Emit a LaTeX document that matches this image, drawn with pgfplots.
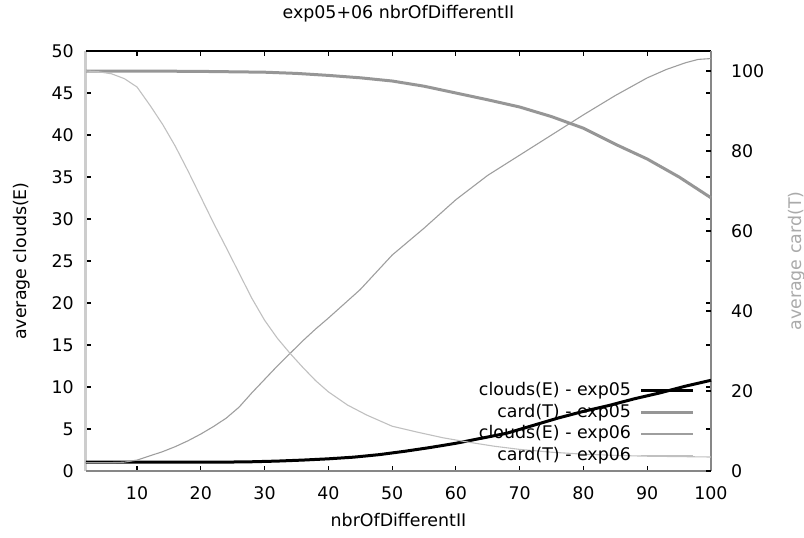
\documentclass[border=0pt]{standalone}
\usepackage{fontspec}
\setmainfont{DejaVu Sans}
\usepackage{pgfplots}
\usepackage{pgfplotstable}
\pgfplotsset{compat=1.18}
\usetikzlibrary{calc}
\definecolor{thickgray}{RGB}{150,150,150}
\definecolor{midgray}{RGB}{158,158,158}
\definecolor{lightgray2}{RGB}{192,192,192}
\definecolor{leftaxis}{RGB}{205,205,205}
\definecolor{framegray}{RGB}{135,135,135}
\definecolor{ytwogray}{RGB}{170,170,170}

% clouds(E) - exp05 (left axis)
\pgfplotstableread{
x y
2 1.05
6 1.05
10 1.05
15 1.05
20 1.05
25 1.07
28 1.1
32 1.18
36 1.3
40 1.45
44 1.65
48 1.95
52 2.35
56 2.8
60 3.3
64 3.9
68 4.5
72 5.4
76 6.3
80 7.1
84 7.8
88 8.6
92 9.3
96 10.1
100 10.8
}\cloudsA

% clouds(E) - exp06 (left axis)
\pgfplotstableread{
x y
2 1.0
6 1.0
8 1.05
10 1.3
12 1.8
14 2.3
16 2.9
18 3.6
20 4.4
22 5.3
24 6.3
26 7.6
28 9.3
30 10.9
32 12.5
34 14.0
36 15.5
38 16.9
40 18.2
45 21.6
50 25.7
55 28.9
60 32.3
65 35.2
70 37.6
75 40.0
80 42.4
85 44.7
90 46.8
93 47.8
96 48.6
98 49.0
100 49.1
}\cloudsB

% card(T) - exp05 (right axis)
\pgfplotstableread{
x y
2 100
10 100
20 99.9
30 99.7
35 99.4
40 98.9
45 98.3
50 97.5
55 96.2
60 94.5
65 92.8
70 91
75 88.6
80 85.7
85 81.7
90 78
95 73.5
100 68.3
}\cardA

% card(T) - exp06 (right axis)
\pgfplotstableread{
x y
2 100
4 99.8
6 99.3
8 98.1
10 96
12 91.5
14 86.7
16 81.2
18 75
20 68.5
22 62
24 55.8
26 49.5
28 43.2
30 37.7
32 33.2
34 29.4
36 25.9
38 22.6
40 19.8
43 16.5
46 14
50 11.2
54 9.7
58 8.3
62 7.2
66 6.2
70 5.4
75 4.7
80 4.2
85 3.9
90 3.7
95 3.6
100 3.5
}\cardB

\begin{document}
\begin{tikzpicture}[font=\fontsize{8.7}{10}\selectfont]
\begin{axis}[name=ax, scale only axis, width=312.5pt, height=210pt,
  xmin=2, xmax=100, ymin=0, ymax=50,
  xtick={10,20,...,100}, ytick={0,5,...,50},
  tick align=inside, xtick pos=both, ytick pos=both,
  xticklabel pos=lower, yticklabel pos=left,
  major tick length=2.5pt,
  tick style={black, line width=0.6pt},
  axis line style={draw=none},
  clip=false,
  /pgf/number format/assume math mode=true,
  ticklabel style={font=\fontsize{8.7}{10}\selectfont},
  xticklabel style={yshift=-4.5pt},
  yticklabel style={xshift=-2.6pt},
  xlabel={nbrOfDifferentII}, ylabel={average clouds(E)},
  xlabel style={at={(axis description cs:0.5,-0.1167)}, anchor=center},
  ylabel style={at={(axis description cs:-0.1024,0.5)}, anchor=center},
  every axis title shift=0pt,
  title={exp05+06 nbrOfDifferentII},
  title style={at={(axis description cs:0.5,1.088)}, anchor=center}]
\draw[leftaxis, line width=1.5pt] (rel axis cs:0,0) -- (rel axis cs:0,1);
\draw[framegray, line width=1pt] (rel axis cs:0,0) -- (rel axis cs:1,0);
\draw[black, line width=1pt] (rel axis cs:0,1) -- (rel axis cs:1,1);
\draw[framegray, line width=1pt] (rel axis cs:1,0) -- (rel axis cs:1,1);
\addplot[black, line width=1.5pt] table[x=x, y=y] {\cloudsA};
\addplot[midgray, line width=0.55pt] table[x=x, y=y] {\cloudsB};
\end{axis}
\begin{axis}[scale only axis, width=312.5pt, height=210pt,
  xmin=2, xmax=100, ymin=0, ymax=105,
  axis x line=none, axis y line*=right,
  axis line style={draw=none},
  ytick={0,20,...,100},
  tick align=inside, major tick length=2.5pt,
  tick style={black, line width=0.6pt},
  clip=false,
  /pgf/number format/assume math mode=true,
  ticklabel style={font=\fontsize{8.7}{10}\selectfont},
  yticklabel style={xshift=6.5pt},
  ylabel={average card(T)},
  ylabel style={at={(axis description cs:1.1376,0.5)}, anchor=center, text=ytwogray},
  legend cell align=right,
  legend plot pos=right,
  legend image code/.code={\draw[#1] (0pt,0pt) -- (26pt,0pt);},
  legend style={at={(axis description cs:0.975,0.01)}, anchor=south east,
    draw=none, fill=none, inner sep=0pt, row sep=0pt, column sep=4pt,
    font=\fontsize{8.7}{10}\selectfont,
    nodes={inner sep=0.5pt, text height=7.2pt, text depth=2.6pt}}]
\addlegendimage{black, line width=1.5pt}
\addlegendentry{clouds(E) - exp05}
\addplot[thickgray, line width=1.5pt] table[x=x, y=y] {\cardA};
\addlegendentry{card(T) - exp05}
\addlegendimage{midgray, line width=0.55pt}
\addlegendentry{clouds(E) - exp06}
\addplot[lightgray2, line width=0.55pt] table[x=x, y=y] {\cardB};
\addlegendentry{card(T) - exp06}
\end{axis}
\pgfresetboundingbox
\path[use as bounding box] ($(ax.south west)+(-43pt,-33pt)$) rectangle ($(ax.south west)+(359pt,235.5pt)$);
\end{tikzpicture}
\end{document}
